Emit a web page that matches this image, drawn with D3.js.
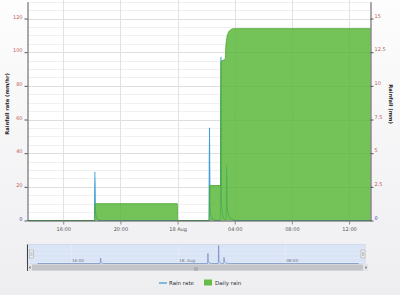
<!DOCTYPE html>
<html><head><meta charset="utf-8">
<script src="https://cdn.jsdelivr.net/npm/d3@7"></script>
<style>
html,body{margin:0;padding:0;background:linear-gradient(#fdfdfd,#eeeef1);}
svg{display:block}
text{font-family:"DejaVu Sans",sans-serif;}
</style>
</head><body>
<svg id="c" width="400" height="295"></svg>
<script>
// ---- data ----
const rateTimes = ["2015-08-17 13:30","2015-08-17 18:11","2015-08-17 18:13","2015-08-17 18:15","2015-08-17 18:19","2015-08-17 18:26","2015-08-17 18:35",
  "2015-08-18 02:12","2015-08-18 02:14","2015-08-18 02:16","2015-08-18 02:21","2015-08-18 02:30","2015-08-18 02:45",
  "2015-08-18 03:00","2015-08-18 03:02","2015-08-18 03:04","2015-08-18 03:09","2015-08-18 03:17",
  "2015-08-18 03:24","2015-08-18 03:26","2015-08-18 03:29","2015-08-18 03:35","2015-08-18 03:45","2015-08-18 04:05","2015-08-18 13:30"];
const rateValues = [0,0,29,6,2,0.6,0,
  0,55,8,2,0.6,0,
  0,97,12,3,0.8,
  0.5,33,7,2.5,1,0,0];
const dailyTimes = ["2015-08-17 13:30","2015-08-17 18:12","2015-08-17 18:14","2015-08-17 23:59","2015-08-18 00:00",
  "2015-08-18 02:13","2015-08-18 02:15","2015-08-18 03:01","2015-08-18 03:02","2015-08-18 03:20","2015-08-18 03:23","2015-08-18 03:27",
  "2015-08-18 03:33","2015-08-18 03:42","2015-08-18 03:55","2015-08-18 13:30"];
const dailyValues = [0,0,1.25,1.25,0,
  0,2.6,2.6,11.8,12.0,13.0,13.6,
  13.95,14.15,14.25,14.25];
const xTickTimes = ["2015-08-17 16:00","2015-08-17 20:00","2015-08-18 00:00","2015-08-18 04:00","2015-08-18 08:00","2015-08-18 12:00"];
const xTickLabels = ["16:00","20:00","18 Aug","04:00","08:00","12:00"];
const leftTicks = [0,20,40,60,80,100,120];
const rightTicks = [0,2.5,5,7.5,10,12.5,15];
const navTickTimes = ["2015-08-17 16:00","2015-08-18 00:00","2015-08-18 08:00"];
const navTickLabels = ["16:00","18. Aug","08:00"];
const seriesNames = ["Rain rate","Daily rain"];

// ---- setup ----
const parse = d3.timeParse("%Y-%m-%d %H:%M");
const svg = d3.select("#c");
const L = 27.5, R = 370.5, B = 220.5;
const x = d3.scaleTime().domain([parse("2015-08-17 13:30"), parse("2015-08-18 13:30")]).range([L, R]);
const yL = d3.scaleLinear().domain([0,130]).range([B, 1.7]);
const yR = d3.scaleLinear().domain([0,16.25]).range([B, 1.7]);

const rate = rateTimes.map((t,i)=>({t:parse(t), v:rateValues[i]}));
const daily = dailyTimes.map((t,i)=>({t:parse(t), v:dailyValues[i]}));

// plot background
svg.append("rect").attr("x",L).attr("y",0).attr("width",R-L).attr("height",B).attr("fill","#fff");

// grid
const minor = d3.range(0,131,5).filter(v=>v%20!==0);
svg.append("g").selectAll("line").data(minor).join("line")
  .attr("x1",L).attr("x2",R).attr("y1",d=>Math.round(yL(d))+0.5).attr("y2",d=>Math.round(yL(d))+0.5)
  .attr("stroke","#f0f0f0").attr("stroke-width",1);
svg.append("g").selectAll("line").data(leftTicks.slice(1)).join("line")
  .attr("x1",L).attr("x2",R).attr("y1",d=>Math.round(yL(d))+0.5).attr("y2",d=>Math.round(yL(d))+0.5)
  .attr("stroke","#dedede").attr("stroke-width",1);
const xTicks = xTickTimes.map(parse);
svg.append("g").selectAll("line").data(xTicks).join("line")
  .attr("x1",d=>Math.round(x(d))+0.5).attr("x2",d=>Math.round(x(d))+0.5).attr("y1",0).attr("y2",B)
  .attr("stroke","#e2e2e2").attr("stroke-width",1);

// rain rate line (drawn beneath the area)
svg.append("path").datum(rate)
  .attr("d", d3.line().x(d=>x(d.t)).y(d=>yL(d.v)).curve(d3.curveMonotoneX))
  .attr("fill","none").attr("stroke","#3f9fd6").attr("stroke-width",1.1);

// daily rain area
svg.append("path").datum(daily)
  .attr("d", d3.area().x(d=>x(d.t)).y0(B).y1(d=>yR(d.v)).curve(d3.curveMonotoneX))
  .attr("fill","#56b634").attr("fill-opacity",0.82);
svg.append("path").datum(daily)
  .attr("d", d3.line().x(d=>x(d.t)).y(d=>yR(d.v)).curve(d3.curveMonotoneX))
  .attr("fill","none").attr("stroke","#4aa52e").attr("stroke-width",0.8);

// axes
const axCol = "#555";
const xAxis = svg.append("g").attr("transform",`translate(0,${B})`)
  .call(d3.axisBottom(x).tickValues(xTicks).tickFormat((d,i)=>xTickLabels[i]).tickSize(4).tickSizeOuter(0));
xAxis.select(".domain").attr("stroke",axCol);
xAxis.selectAll(".tick line").attr("stroke","#888");
xAxis.selectAll("text").attr("font-size",5).attr("fill","#555").attr("dy","0.6em");

const lAxis = svg.append("g").attr("transform",`translate(${L},0)`)
  .call(d3.axisLeft(yL).tickValues(leftTicks).tickFormat(d=>String(d)).tickSize(3).tickSizeOuter(0).tickPadding(2));
lAxis.select(".domain").attr("stroke",axCol);
lAxis.selectAll(".tick line").attr("stroke",axCol);
lAxis.selectAll("text").attr("font-size",5).attr("dy","-0.1em").attr("fill",d=>d===0?"#3a3a9a":"#c05a5a");

const rAxis = svg.append("g").attr("transform",`translate(${R},0)`)
  .call(d3.axisRight(yR).tickValues(rightTicks).tickFormat(d=>String(d)).tickSize(3).tickSizeOuter(0).tickPadding(1));
rAxis.select(".domain").attr("stroke",axCol);
rAxis.selectAll(".tick line").attr("stroke",axCol);
rAxis.selectAll("text").attr("font-size",5).attr("dy","-0.3em").attr("fill",d=>d===0?"#3a3aaa":"#c05a5a");

// axis titles
svg.append("text").attr("transform","translate(9,104) rotate(-90)").attr("text-anchor","middle")
  .attr("font-size",5.2).attr("font-weight","bold").attr("fill","#222").text("Rainfall rate (mm/hr)");
svg.append("text").attr("transform","translate(389,104) rotate(90)").attr("text-anchor","middle")
  .attr("font-size",5.2).attr("font-weight","bold").attr("fill","#222").text("Rainfall (mm)");

// ---- navigator ----
const NL = 27, NR = 365, NT = 244.5, NB = 264;
const nx = d3.scaleTime().domain([parse("2015-08-17 12:43"), parse("2015-08-18 13:58")]).range([NL, NR]);
const ny = d3.scaleLinear().domain([0,100]).range([NB-0.5, NT+0.5]);
function x0(d){return Math.round(nx(d))+0.5;}
svg.append("rect").attr("x",NL).attr("y",NT).attr("width",NR-NL).attr("height",NB-NT)
  .attr("fill","#d9e4f6").attr("stroke","#c6cfdf").attr("stroke-width",0.6);
svg.append("g").selectAll("line").data([0,1,2,3]).join("line")
  .attr("x1",NL).attr("x2",NR).attr("y1",(d,i)=>NT+4.5+i*4.5).attr("y2",(d,i)=>NT+4.5+i*4.5)
  .attr("stroke","#e6edf9").attr("stroke-width",0.6);
const navTicks = navTickTimes.map(parse);
svg.append("g").selectAll("line").data(navTicks).join("line")
  .attr("x1",d=>x0(d)).attr("x2",d=>x0(d)).attr("y1",NT).attr("y2",NB)
  .attr("stroke","#e8eef8").attr("stroke-width",0.6);
svg.append("g").selectAll("text").data(navTicks).join("text")
  .attr("x",d=>nx(d)+1).attr("y",NB-1.8).attr("font-size",4.2).attr("fill","#7a7a8a")
  .text((d,i)=>navTickLabels[i]);
svg.append("path").datum(rate)
  .attr("d", d3.line().x(d=>nx(d.t)).y(d=>ny(d.v)).curve(d3.curveMonotoneX))
  .attr("fill","none").attr("stroke","#6b88bd").attr("stroke-width",0.7);
// handles
[NL+4.5, NR-2].forEach(hx=>{
  svg.append("rect").attr("x",hx-2).attr("y",NT+5.5).attr("width",4).attr("height",8)
    .attr("fill","#f0f0f0").attr("stroke","#9a9a9a").attr("stroke-width",0.5);
  svg.append("line").attr("x1",hx-0.5).attr("x2",hx-0.5).attr("y1",NT+7.5).attr("y2",NT+11.5).attr("stroke","#888").attr("stroke-width",0.4);
  svg.append("line").attr("x1",hx+0.5).attr("x2",hx+0.5).attr("y1",NT+7.5).attr("y2",NT+11.5).attr("stroke","#888").attr("stroke-width",0.4);
});
// scrollbar
svg.append("rect").attr("x",NL).attr("y",NB).attr("width",NR-NL+3).attr("height",7).attr("fill","#e4e4e6");
svg.append("rect").attr("x",NL+5).attr("y",NB+0.5).attr("width",NR-NL-7).attr("height",6).attr("fill","#c3c5c9");
svg.append("text").attr("x",(NL+NR)/2).attr("y",NB+5.5).attr("text-anchor","middle").attr("font-size",4).attr("fill","#666").text("|||");
svg.append("path").attr("d",`M${NL+3.5},${NB+2} l-1.6,1.5 l1.6,1.5 z`).attr("fill","#666");
svg.append("path").attr("d",`M${NR+0.5},${NB+2} l1.6,1.5 l-1.6,1.5 z`).attr("fill","#666");
svg.append("line").attr("x1",NL+0.5).attr("x2",NL+0.5).attr("y1",NT).attr("y2",NB+7).attr("stroke","#444").attr("stroke-width",1);

// ---- legend ----
const lg = svg.append("g");
lg.append("line").attr("x1",159).attr("x2",167).attr("y1",283).attr("y2",283).attr("stroke","#3f9fd6").attr("stroke-width",1.3);
lg.append("text").attr("x",169).attr("y",285).attr("font-size",5.5).attr("fill","#333").text(seriesNames[0]);
lg.append("rect").attr("x",204).attr("y",279.5).attr("width",8).attr("height",6).attr("fill","#56b634").attr("fill-opacity",0.9);
lg.append("text").attr("x",215).attr("y",285).attr("font-size",5.5).attr("fill","#333").text(seriesNames[1]);
</script>
</body></html>
